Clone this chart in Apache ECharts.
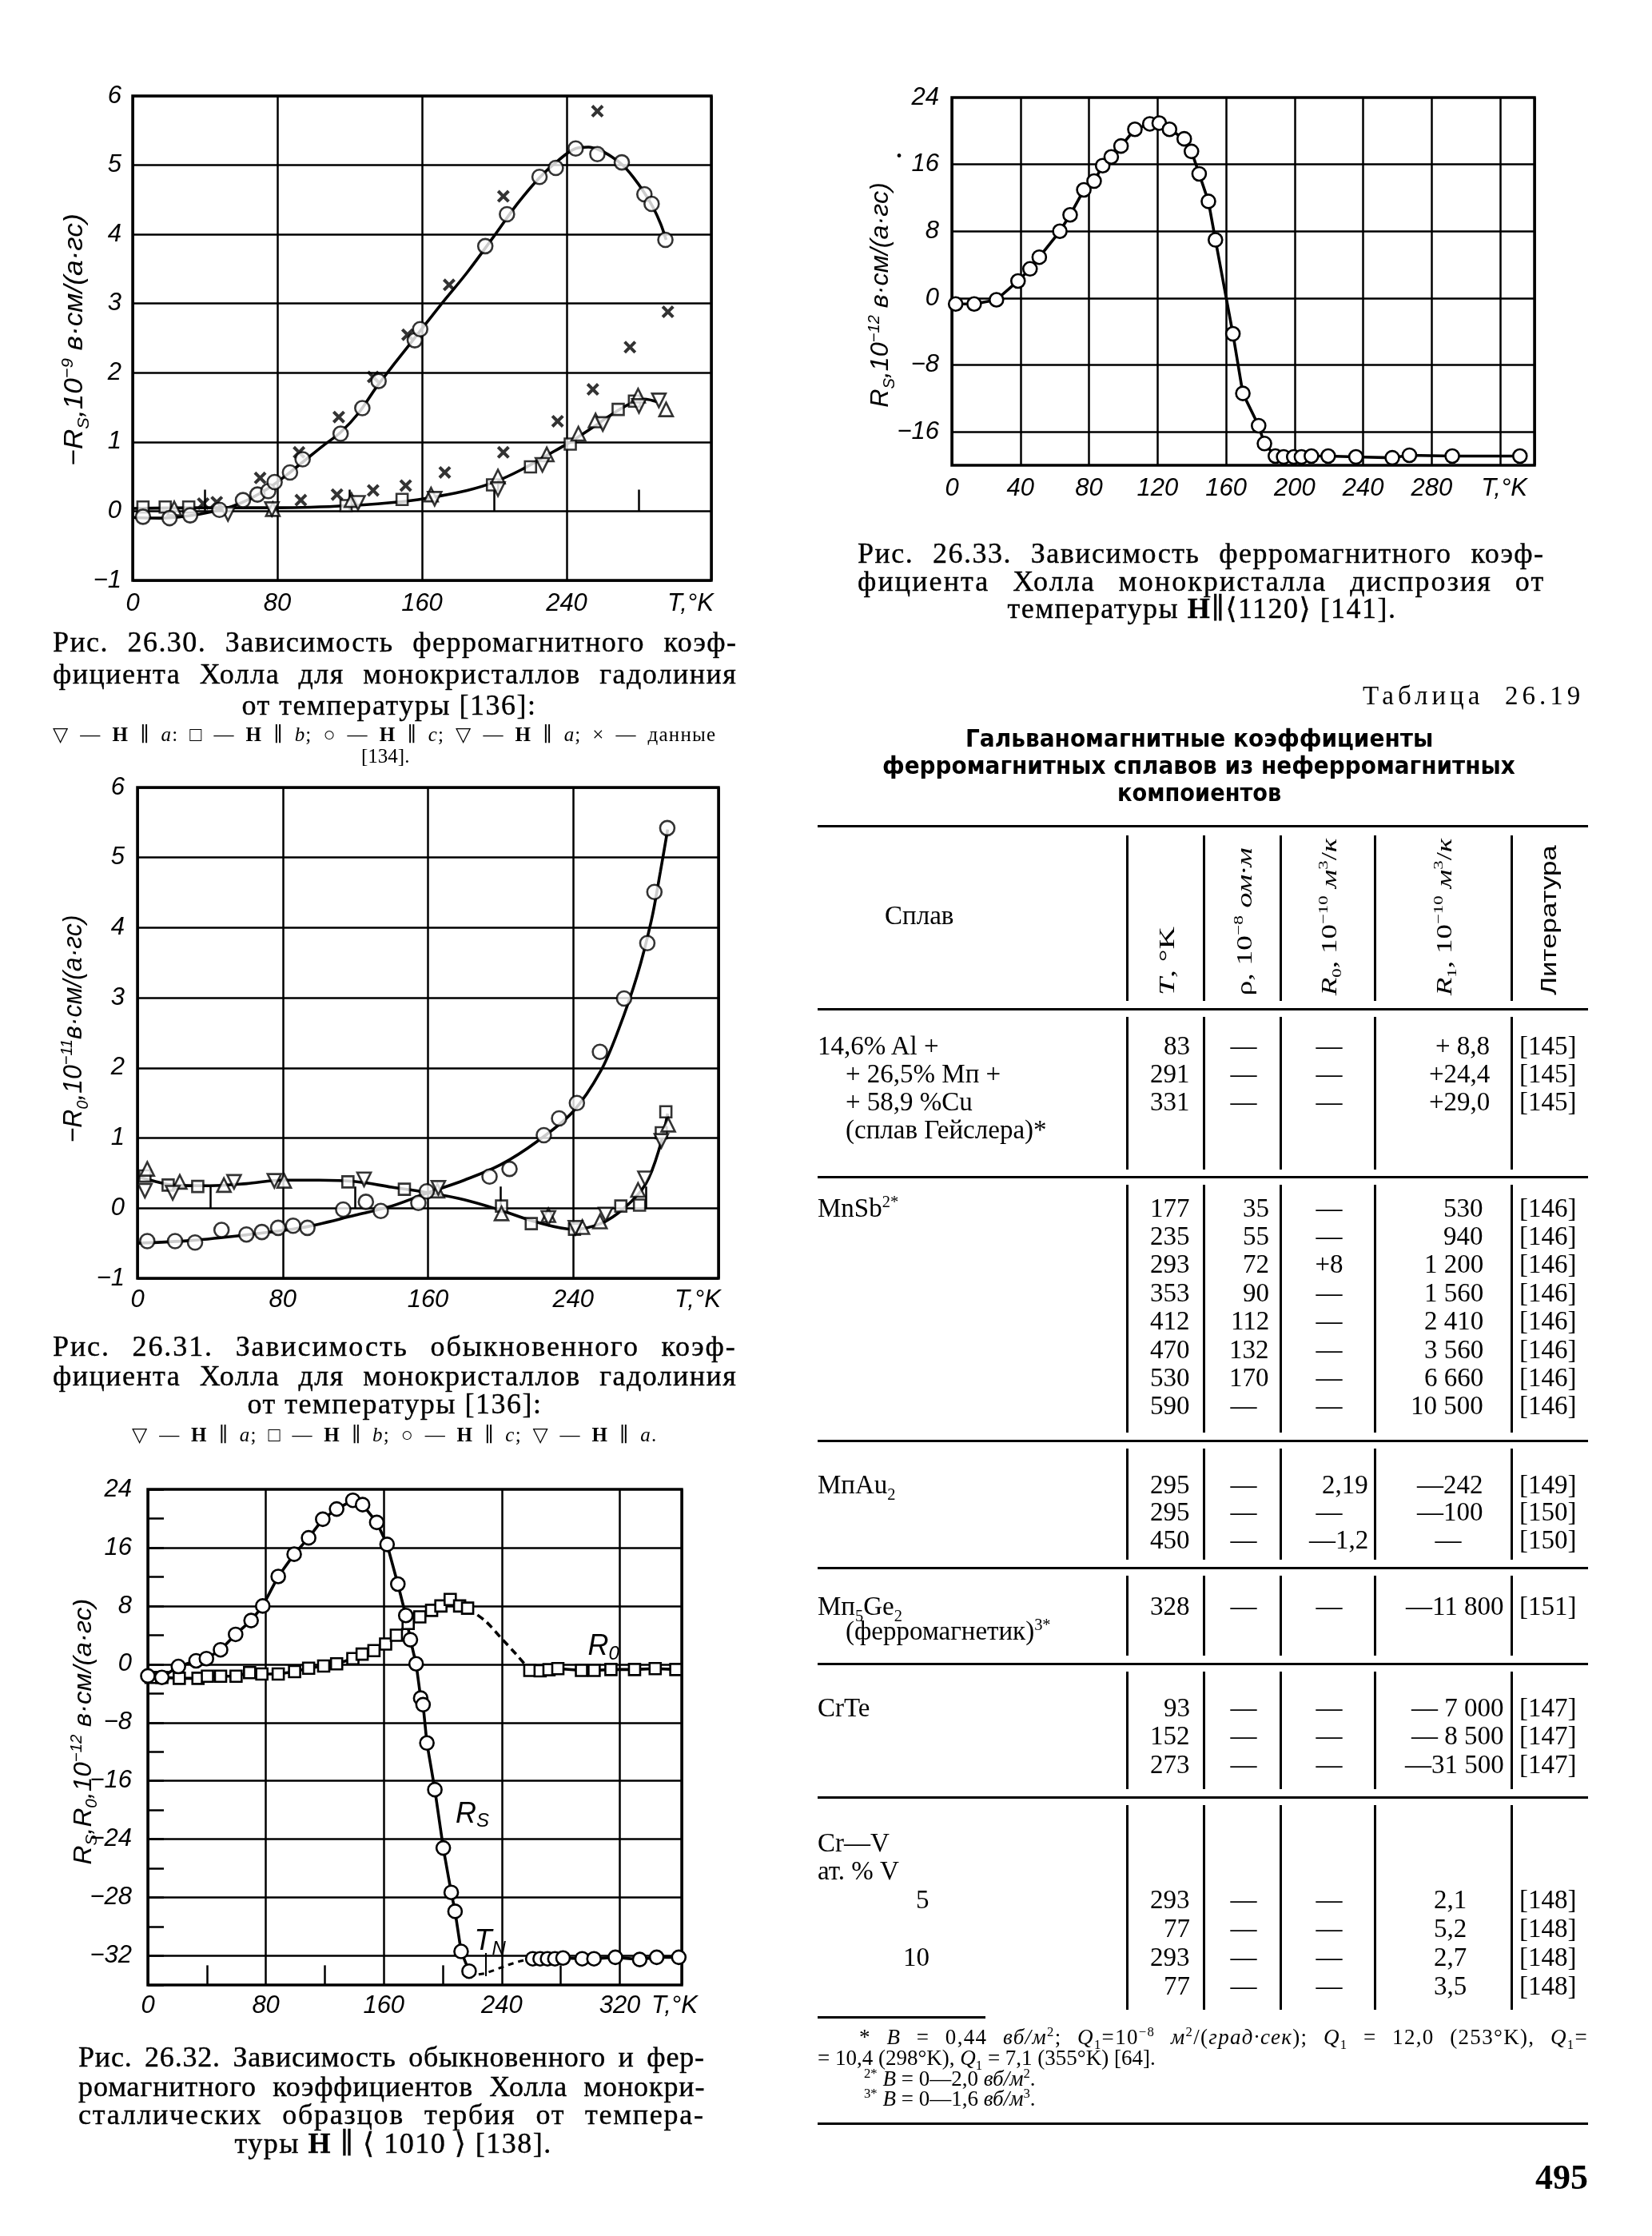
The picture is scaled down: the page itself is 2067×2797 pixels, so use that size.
<!DOCTYPE html>
<html lang="ru"><head><meta charset="utf-8"><title>Рис. 26.30–26.33, Таблица 26.19</title>
<script src="https://cdn.jsdelivr.net/npm/echarts@6.0.0/dist/echarts.min.js"></script>
<style>
html,body{margin:0;padding:0;background:#fff;}
#page{position:relative;width:2067px;height:2797px;overflow:hidden;background:#fff;color:#000;}
#chart{position:absolute;left:0;top:0;width:2067px;height:2797px;}
#ov{position:absolute;left:0;top:0;width:2067px;height:2797px;pointer-events:none;}
.t{position:absolute;white-space:nowrap;line-height:1;}
.serif{font-family:"Liberation Serif","DejaVu Serif",serif;}
.cap{-webkit-text-stroke:0.4px #000;}
.ax{font-family:"Liberation Sans Narrow","Liberation Sans","DejaVu Sans",sans-serif;font-style:italic;}
.bsans{font-family:"DejaVu Sans Condensed","Liberation Sans Narrow","DejaVu Sans",sans-serif;font-weight:bold;}
.sans{font-family:"Liberation Sans","DejaVu Sans",sans-serif;}
.rule{position:absolute;background:#000;}
sub,sup{font-size:0.62em;line-height:0;}
</style></head>
<body><div id="page"><div id="chart"></div><div id="ov"></div></div>
<script>
// ================= DATA =================
// --- Fig. 26.30: -Rs (10^-9) vs T, Gd ---
const f30_circleC = [[5.7,-0.08],[20.4,-0.1],[31.8,-0.06],[48,0.02],[61,0.16],[69,0.24],[75,0.29],[78.5,0.42],[87,0.56],[94,0.75],[115,1.12],[127,1.49],[136,1.88],[156,2.47],[159,2.63],[195,3.83],[207,4.29],[225,4.83],[234,4.96],[245,5.24],[257,5.16],[270.5,5.04],[283,4.58],[287,4.44],[294.6,3.92]];
const f30_cross = [[257,5.78],[205,4.55],[175,3.27],[152,2.55],[133,1.94],[114,1.36],[92,0.85],[70.5,0.48],[46.5,0.13],[39,0.11],[296,2.88],[275,2.37],[254.5,1.76],[235,1.30],[205,0.85],[172.6,0.56],[151,0.37],[133,0.30],[113,0.24],[93,0.16]];
const f30_squareB = [[5.7,0.06],[18,0.06],[31,0.06],[118,0.08],[149,0.17],[199,0.38],[220,0.64],[242,0.97],[268.5,1.47],[277.5,1.59]];
const f30_triUpA = [[23,0.04],[77.5,0.03],[121,0.16],[165,0.24],[202,0.5],[229,0.82],[246.5,1.12],[256,1.31],[279.5,1.67],[295,1.47]];
const f30_triDownA = [[52.7,-0.04],[77,0.03],[124.6,0.12],[167,0.18],[202,0.32],[226.6,0.67],[260,1.26],[280,1.52],[291,1.6]];
const f30_curveC = [[0,-0.09],[15,-0.1],[30,-0.07],[45,0.0],[55,0.07],[65,0.18],[75,0.33],[85,0.52],[95,0.73],[105,0.94],[115,1.14],[125,1.42],[135,1.8],[145,2.14],[158,2.57],[170,2.97],[185,3.45],[200,3.98],[213,4.45],[225,4.82],[235,5.06],[245,5.24],[252,5.26],[258,5.22],[265,5.12],[271,5.0],[277,4.82],[283,4.6],[288,4.38],[292,4.15],[295,3.92]];
const f30_curveAB = [[0,0.04],[40,0.05],[80,0.05],[120,0.08],[150,0.14],[170,0.22],[185,0.3],[200,0.42],[215,0.6],[230,0.82],[242,1.0],[255,1.22],[265,1.4],[275,1.55],[283,1.62],[290,1.58]];

// --- Fig. 26.33: Rs (10^-12) vs T, Dy ---
const f33_points = [[2.2,-0.7],[13,-0.7],[26,-0.2],[38.6,2.05],[45.6,3.5],[51,4.9],[63,8.0],[69,9.96],[77,12.95],[83,14.0],[88,15.85],[93,16.9],[98.7,18.2],[106.8,20.2],[115.5,20.85],[121,20.94],[127,20.2],[135.6,19.06],[139.8,17.56],[144.3,14.87],[149.7,11.58],[153.8,6.97],[164,-4.27],[169.8,-11.4],[179,-15.26],[182.4,-17.4],[188.8,-18.9],[193.6,-19.0],[199.5,-19.0],[204,-19.0],[209.8,-18.9],[219.6,-18.9],[235.8,-19.0],[257,-19.1],[267,-18.8],[292,-18.9],[331.5,-18.9]];
const f33_yGrid = [16, 8, 0, -8, -16];

// --- Fig. 26.31: -R0 (10^-11) vs T, Gd ---
const f31_circleC = [[5.4,-0.47],[20.7,-0.47],[31.7,-0.49],[46.3,-0.31],[60,-0.375],[68.5,-0.34],[77.5,-0.28],[85.7,-0.25],[93.6,-0.28],[113.3,-0.02],[125.8,0.09],[134,-0.04],[154.7,0.075],[159.3,0.24],[193.9,0.45],[204.9,0.56],[223.8,1.04],[232.2,1.28],[242,1.5],[254.7,2.23],[268,2.99],[280.8,3.78],[284.7,4.51],[291.8,5.42]];
const f31_squareB = [[4.1,0.46],[16.9,0.33],[33.2,0.31],[115.9,0.375],[147,0.27],[200.5,0.03],[216.9,-0.22],[240.7,-0.3],[266.2,0.03],[276.5,0.044],[288.5,1.075],[291,1.375]];
const f31_triUpA = [[5.4,0.56],[23.3,0.375],[47.6,0.33],[80.8,0.39],[165.2,0.25],[200.5,-0.075],[226.3,-0.1],[245,-0.27],[254.7,-0.19],[275.7,0.26],[292.3,1.19]];
const f31_triDownA = [[4.1,0.25],[19.4,0.22],[53.2,0.375],[75.4,0.39],[124.8,0.41],[165.7,0.29],[226.3,-0.14],[241.2,-0.28],[257.8,-0.09],[279.5,0.425],[288.5,0.96]];
const f31_curveC = [[0,-0.5],[30,-0.46],[60,-0.38],[90,-0.28],[120,-0.1],[140,0.03],[160,0.22],[180,0.4],[200,0.62],[220,0.95],[240,1.38],[255,1.95],[265,2.55],[275,3.3],[283,4.1],[288,4.8],[292,5.4]];
const f31_curveAB = [[0,0.45],[10,0.38],[20,0.33],[40,0.32],[60,0.35],[80,0.4],[100,0.4],[120,0.38],[140,0.3],[160,0.22],[180,0.12],[200,-0.03],[220,-0.2],[240,-0.3],[255,-0.22],[268,0.0],[280,0.35],[288,0.9],[292,1.35]];

// --- Fig. 26.32: Rs, R0 (10^-12) vs T, Tb ---
const f32_rsLow = [[0,-1.6],[9.5,-1.8],[20.7,-0.3],[32.7,0.48],[39.7,0.78],[49.3,1.99],[59.5,4.1],[70,6.0],[77.9,8.0],[88.4,12.05],[99.2,15.1],[109,17.35],[118.6,19.9],[128,21.3],[139,22.5],[145.6,21.9],[155.2,19.46],[162.2,16.45],[169.5,11.0],[174.9,6.7],[178,3.37],[181.9,0.06],[185,-4.64],[186.6,-5.54],[189.2,-10.8],[194.6,-17.2],[200.3,-25.2],[205.7,-31.3],[208.3,-33.9],[212.4,-39.4],[217.8,-42.1]];
const f32_rsGap = [[217.8,-42.1],[223,-42.6],[229,-42.4],[237,-41.8],[245,-41.2],[253,-40.7],[261,-40.4]];
const f32_rsHigh = [[261,-40.4],[266,-40.4],[271,-40.4],[276,-40.4],[281.5,-40.3],[294.5,-40.4],[302.5,-40.4],[317,-40.2],[333.5,-40.5],[345,-40.2],[360,-40.2]];
const f32_roLow = [[2.2,-1.8],[9.5,-1.8],[21.3,-1.93],[34,-1.93],[40.4,-1.63],[49.3,-1.63],[59.8,-1.63],[69,-1.14],[77.3,-1.33],[88.4,-1.33],[99.5,-1.0],[109,-0.54],[119.2,-0.24],[128,0.06],[139,0.78],[145.3,1.39],[153.3,1.87],[161.2,2.77],[168.5,3.98],[176.5,5.6],[184.4,6.5],[192.4,7.4],[198.7,8.0],[205,8.9],[211.4,8.0],[216.8,7.7]];
const f32_roGap = [[216.8,7.7],[229,5.9],[240,3.5],[249.6,1.4],[256,-0.1],[259,-0.84]];
const f32_roHigh = [[259,-0.84],[266,-0.9],[272,-0.75],[278,-0.6],[294,-0.84],[302.6,-0.84],[314,-0.72],[330,-0.72],[344,-0.6],[358,-0.72]];
const f32_yGrid = [16, 8, 0, -8, -16, -24, -32, -40];
const f32_yTickLabels = {'24':'24','16':'16','8':'8','0':'0','-8':'−8','-16':'−16','-24':'−24','-32':'−28','-40':'−32'};
const f32_xMinor = [40, 120, 200, 280];
const f32_notes = [{coord:[309,2.4], text:'{i|R}{s|0}'},{coord:[220,-20.6], text:'{i|R}{s|S}'},{coord:[232,-38.1], text:'{i|T}{s|N}'}];

// --- Table 26.19 ---
const tblHeaders = ['<i>T</i>, °K','ρ, 10<sup>−8</sup> <i>ом·м</i>','<i>R</i><sub>0</sub>, 10<sup>−10</sup> <i>м</i><sup>3</sup>/<i>к</i>','<i>R</i><sub>1</sub>, 10<sup>−10</sup> <i>м</i><sup>3</sup>/<i>к</i>','Литература'];
const tblGroups = [
  {y0:1308, pitch:35, r1:1864, names:[['14,6% Al +',0,0],['+ 26,5% Мп +',1,1],['+ 58,9 %Cu',2,1],['(сплав Гейслера)*',3,1]],
   rows:[[0,'83','—','—','+ 8,8','[145]'],[1,'291','—','—','+24,4','[145]'],[2,'331','—','—','+29,0','[145]']]},
  {y0:1511, pitch:35.4, r1:1856, names:[['MnSb<sup>2*</sup>',0,0]],
   rows:[[0,'177','35','—','530','[146]'],[1,'235','55','—','940','[146]'],[2,'293','72','+8','1 200','[146]'],[3,'353','90','—','1 560','[146]'],[4,'412','112','—','2 410','[146]'],[5,'470','132','—','3 560','[146]'],[6,'530','170','—','6 660','[146]'],[7,'590','—','—','10 500','[146]']]},
  {y0:1857, pitch:34.5, r1:1856, names:[['МпAu<sub>2</sub>',0,0]],
   rows:[[0,'295','—','2,19','—242','[149]'],[1,'295','—','—','—100','[150]'],[2,'450','—','—1,2','—','[150]']]},
  {y0:2009, pitch:31, r1:1882, names:[['Мп<sub>5</sub>Ge<sub>2</sub>',0,0],['(ферромагнетик)<sup>3*</sup>',1,1]],
   rows:[[0,'328','—','—','—11 800','[151]']]},
  {y0:2136, pitch:35.5, r1:1882, names:[['CrTe',0,0]],
   rows:[[0,'93','—','—','— 7 000','[147]'],[1,'152','—','—','— 8 500','[147]'],[2,'273','—','—','—31 500','[147]']]},
  {y0:2305, pitch:35.8, r1:1835, names:[['Cr—V',0,0],['ат. % V',1,0],['5',2,2],['10',4,2]],
   rows:[[2,'293','—','—','2,1','[148]'],[3,'77','—','—','5,2','[148]'],[4,'293','—','—','2,7','[148]'],[5,'77','—','—','3,5','[148]']]}
];

// ================= CHARTS =================
const FONT_AX = '"Liberation Sans Narrow","Liberation Sans","DejaVu Sans",sans-serif';
const BLACK = '#000';
const minus = v => (v < 0 ? '−' + Math.abs(v) : String(v));
const lbl = extra => Object.assign({color:BLACK, fontFamily:FONT_AX, fontStyle:'italic', fontSize:31, showMinLabel:true, showMaxLabel:true}, extra);
const richT = pad => ({t:{color:BLACK, fontFamily:FONT_AX, fontStyle:'italic', fontSize:31, padding:pad}});
const gridLine = {show:true, lineStyle:{color:BLACK, width:2.5}};
const gridBox = (l,t,w,h) => ({left:l, top:t, width:w, height:h, show:true, borderColor:BLACK, borderWidth:3.5, backgroundColor:'rgba(0,0,0,0)', containLabel:false});

const openSym = (sym, size, rot) => ({symbol:sym, symbolSize:size, symbolRotate:rot||0, itemStyle:{color:'#fff', borderColor:BLACK, borderWidth:2.6}});
const CROSS = 'path://M0,2.5 L2.5,0 L7,4.5 L11.5,0 L14,2.5 L9.5,7 L14,11.5 L11.5,14 L7,9.5 L2.5,14 L0,11.5 L4.5,7 Z';

function curve(ax, data, smooth, extra){
  return Object.assign({type:'line', xAxisIndex:ax, yAxisIndex:ax, data, smooth:smooth, symbol:'none', lineStyle:{color:BLACK, width:3.6}, z:3, silent:true}, extra||{});
}
function scat(ax, data, sym){
  return Object.assign({type:'scatter', xAxisIndex:ax, yAxisIndex:ax, data, z:6, silent:true}, sym);
}
function linePts(ax, data, sym, extra){
  return Object.assign({type:'line', xAxisIndex:ax, yAxisIndex:ax, data, showAllSymbol:true, lineStyle:{color:BLACK, width:3.6}, z:5, silent:true}, sym, extra||{});
}

const option = {
  animation:false,
  backgroundColor:'#fff',
  grid:[gridBox(166,120,724,606), gridBox(1191,122,729,460), gridBox(172,985,727,614), gridBox(185,1863,668,620)],
  xAxis:[
    {gridIndex:0, type:'value', min:0, max:320, interval:80, axisLine:{show:false}, axisTick:{show:false, inside:true},
     minorTick:{show:true, splitNumber:2, length:27, lineStyle:{color:BLACK, width:2.5}}, splitLine:gridLine,
     axisLabel:lbl({margin:14, formatter:v => v===320 ? '{t|T,°K}' : String(v), rich:richT([0,52,0,0])})},
    {gridIndex:1, type:'value', min:0, max:340, interval:40, axisLine:{show:false}, axisTick:{show:false}, splitLine:gridLine,
     axisLabel:lbl({margin:14, formatter:v => v===320 ? '{t|T,°K}' : (v===340 ? '' : String(v)), rich:richT([0,0,0,10])})},
    {gridIndex:2, type:'value', min:0, max:320, interval:80, axisLine:{show:false}, axisTick:{show:false, inside:true},
     minorTick:{show:true, splitNumber:2, length:27, lineStyle:{color:BLACK, width:2.5}}, splitLine:gridLine,
     axisLabel:lbl({margin:12, formatter:v => v===320 ? '{t|T,°K}' : String(v), rich:richT([0,52,0,0])})},
    {gridIndex:3, type:'value', min:0, max:362, interval:80, axisLine:{show:false}, axisTick:{show:false}, splitLine:gridLine,
     axisLabel:lbl({margin:11, formatter:v => v===362 ? '{t|T,°K}' : String(v), rich:richT([0,18,0,0])})}
  ],
  yAxis:[
    {gridIndex:0, type:'value', min:-1, max:6, interval:1, axisLine:{show:false}, axisTick:{show:false}, splitLine:gridLine,
     axisLabel:lbl({margin:14, formatter:v => minus(v)})},
    {gridIndex:1, type:'value', min:-20, max:24, interval:4, axisLine:{show:false}, axisTick:{show:false}, splitLine:{show:false},
     axisLabel:lbl({margin:16, formatter:v => (v % 8 === 0 && v > -20) ? minus(v) : ''})},
    {gridIndex:2, type:'value', min:-1, max:6, interval:1, axisLine:{show:false}, axisTick:{show:false}, splitLine:gridLine,
     axisLabel:lbl({margin:16, formatter:v => minus(v)})},
    {gridIndex:3, type:'value', min:-44, max:24, interval:4, axisLine:{show:false},
     axisTick:{show:true, inside:true, length:20, lineStyle:{color:BLACK, width:2.5}}, splitLine:{show:false},
     axisLabel:lbl({margin:20, formatter:v => f32_yTickLabels[String(v)] || ''})}
  ],
  series:[
    // 26.30
    curve(0, f30_curveC, 0.35),
    curve(0, f30_curveAB, 0.35),
    scat(0, f30_cross, {symbol:CROSS, symbolSize:16, itemStyle:{color:BLACK}}),
    scat(0, f30_squareB, openSym('rect', 14)),
    scat(0, f30_triUpA, openSym('triangle', 17)),
    scat(0, f30_triDownA, openSym('triangle', 17, 180)),
    scat(0, f30_circleC, openSym('circle', 18)),
    // 26.33
    {type:'line', xAxisIndex:1, yAxisIndex:1, data:[], silent:true, z:1,
     markLine:{silent:true, symbol:['none','none'], label:{show:false}, lineStyle:{color:BLACK, width:2.5, type:'solid'},
               data:f33_yGrid.map(v => ({yAxis:v}))}},
    linePts(1, f33_points, openSym('circle', 17)),
    // 26.31
    curve(2, f31_curveC, 0.35),
    curve(2, f31_curveAB, 0.35),
    scat(2, f31_squareB, openSym('rect', 14)),
    scat(2, f31_triUpA, openSym('triangle', 17)),
    scat(2, f31_triDownA, openSym('triangle', 17, 180)),
    scat(2, f31_circleC, openSym('circle', 18)),
    // 26.32
    {type:'line', xAxisIndex:3, yAxisIndex:3, data:[], silent:true, z:1,
     markLine:{silent:true, symbol:['none','none'], label:{show:false}, lineStyle:{color:BLACK, width:2.5, type:'solid'},
               data:f32_yGrid.map(v => ({yAxis:v})).concat(f32_xMinor.map(v => [{coord:[v,-44]},{coord:[v,-41.3]}]))}},
    curve(3, f32_rsGap, false, {lineStyle:{color:BLACK, width:3, type:[7,6]}}),
    curve(3, f32_roGap, 0.3, {lineStyle:{color:BLACK, width:3.6, type:[9,6]}}),
    linePts(3, f32_roLow, openSym('rect', 14)),
    linePts(3, f32_roHigh, openSym('rect', 14)),
    linePts(3, f32_rsLow, openSym('circle', 17)),
    linePts(3, f32_rsHigh, openSym('circle', 17), {
      markPoint:{symbol:'rect', symbolSize:1, itemStyle:{color:'rgba(0,0,0,0)'}, silent:true,
        label:{show:true, position:'inside', color:BLACK,
          rich:{i:{color:BLACK, fontFamily:FONT_AX, fontStyle:'italic', fontSize:36}, s:{color:BLACK, fontFamily:FONT_AX, fontStyle:'italic', fontSize:24, padding:[18,0,0,0]}}},
        data:f32_notes.map(n => ({coord:n.coord, label:{formatter:n.text}}))},
      markLine:{silent:true, symbol:['none','arrow'], symbolSize:[1,12], label:{show:false}, lineStyle:{color:BLACK, width:2, type:'solid'},
        data:[[{coord:[229,-39.6]},{coord:[229,-42.8]}]]}
    })
  ]
};
const chart = echarts.init(document.getElementById('chart'), null, {renderer:'canvas'});
chart.setOption(option);

// ================= TEXT OVERLAY =================
const ov = document.getElementById('ov');
function T(html, o){
  const el = document.createElement('div');
  el.className = 't ' + (o.cls || 'serif');
  el.innerHTML = html;
  el.style.fontSize = o.size + 'px';
  if (o.bold) el.style.fontWeight = 'bold';
  if (o.italic) el.style.fontStyle = 'italic';
  if (o.ls != null) el.style.letterSpacing = o.ls + 'px';
  ov.appendChild(el);
  let w = el.offsetWidth; const h = el.offsetHeight;
  if (o.width){
    const txt = el.textContent;
    const nSp = (txt.match(/[ \u00a0]/g) || []).length;
    const nCh = txt.length;
    if (w < o.width && !o.scale){
      const extra = o.width - w;
      const share = nSp > 0 ? (o.lsShare != null ? o.lsShare : 0.55) : 1;
      const ls = extra * share / nCh;
      el.style.letterSpacing = ls + 'px';
      if (nSp > 0){
        const w2 = el.offsetWidth;
        el.style.wordSpacing = ((o.width - w2) / nSp) + 'px';
      }
    } else { el.style.transformOrigin = 'left center'; el.style.transform = 'scaleX(' + (o.width / w) + ')'; }
    w = o.width;
  }
  const a = o.align || 'left';
  const left = a === 'right' ? o.x - w : (a === 'center' ? o.x - w / 2 : o.x);
  el.style.left = left + 'px';
  el.style.top = (o.y - h / 2) + 'px';
  return el;
}
function R(html, o){
  const el = document.createElement('div');
  el.className = 't ' + (o.cls || 'ax');
  el.innerHTML = html;
  el.style.fontSize = o.size + 'px';
  ov.appendChild(el);
  const w = el.offsetWidth, h = el.offsetHeight;
  el.style.left = (o.cx - w / 2) + 'px';
  el.style.top = (o.cy - h / 2) + 'px';
  el.style.transformOrigin = 'center center';
  const k = o.len ? o.len / w : 1;
  el.style.transform = 'rotate(-90deg) scaleX(' + k + ')';
}
function HR(x1, x2, y, th){ const d = document.createElement('div'); d.className='rule'; d.style.left=x1+'px'; d.style.width=(x2-x1)+'px'; d.style.top=(y-th/2)+'px'; d.style.height=th+'px'; ov.appendChild(d); }
function VR(x, y1, y2, th){ const d = document.createElement('div'); d.className='rule'; d.style.left=(x-th/2)+'px'; d.style.width=th+'px'; d.style.top=y1+'px'; d.style.height=(y2-y1)+'px'; ov.appendChild(d); }

// axis titles
R('−<i>R</i><sub>S</sub>,10<sup>−9</sup> <i>в·см/(а·гс)</i>', {cx:91, cy:425, len:315, size:34});
R('<i>R</i><sub>S</sub>,10<sup>−12</sup> <i>в·см/(а·гс)</i>', {cx:1100, cy:369, len:282, size:32});
R('−<i>R</i><sub>0</sub>,10<sup>−11</sup><i>в·см/(а·гс)</i>', {cx:90, cy:1287, len:285, size:34});
R('<i>R</i><sub>S</sub>,<i>R</i><sub>0</sub>,10<sup>−12</sup> <i>в·см/(а·гс)</i>', {cx:103, cy:2166, len:333, size:32});
T('•', {x:1125, y:195, size:20, align:'center'});

// captions
const CAP = 36;
T('Рис. 26.30. Зависимость ферромагнитного коэф-', {x:66, y:803, size:CAP, width:856, cls:'serif cap'});
T('фициента Холла для монокристаллов гадолиния', {x:66, y:843, size:CAP, width:856, cls:'serif cap'});
T('от температуры [136]:', {x:487, y:882, size:CAP, align:'center', ls:1.5, cls:'serif cap'});
T('▽ — <b>Н</b> ∥ <i>a</i>:  □ — <b>Н</b> ∥ <i>b</i>;  ○ — <b>Н</b> ∥ <i>c</i>;  ▽ — <b>Н</b> ∥ <i>a</i>;  × — данные', {x:66, y:918, size:25, width:856, lsShare:0.3});
T('[134].', {x:482, y:945, size:25, align:'center'});

T('Рис. 26.33. Зависимость ферромагнитного коэф-', {x:1073, y:692, size:CAP, width:860, cls:'serif cap'});
T('фициента Холла монокристалла диспрозия от', {x:1073, y:727, size:CAP, width:860, cls:'serif cap'});
T('температуры <b>Н</b>∥⟨1120⟩ [141].', {x:1504, y:761, size:CAP, align:'center', ls:1.5, cls:'serif cap'});

T('Рис. 26.31. Зависимость обыкновенного коэф-', {x:66, y:1684, size:CAP, width:856, cls:'serif cap'});
T('фициента Холла для монокристаллов гадолиния', {x:66, y:1721, size:CAP, width:856, cls:'serif cap'});
T('от температуры [136]:', {x:494, y:1756, size:CAP, align:'center', ls:1.5, cls:'serif cap'});
T('▽ — <b>Н</b> ∥ <i>a</i>; □ — <b>Н</b> ∥ <i>b</i>; ○ — <b>Н</b> ∥ <i>c</i>; ▽ — <b>Н</b> ∥ <i>a</i>.', {x:165, y:1794, size:25, width:658, lsShare:0.3});

T('Рис. 26.32. Зависимость обыкновенного и фер-', {x:98, y:2573, size:CAP, width:784, cls:'serif cap'});
T('ромагнитного коэффициентов Холла монокри-', {x:98, y:2610, size:CAP, width:784, cls:'serif cap'});
T('сталлических образцов тербия от темпера-', {x:98, y:2645, size:CAP, width:784, cls:'serif cap'});
T('туры <b>Н</b> ∥ ⟨ 1010 ⟩ [138].', {x:492, y:2681, size:CAP, align:'center', ls:1.5, cls:'serif cap'});

// table
T('Таблица&nbsp; 26.19', {x:1982, y:870, size:33, align:'right', ls:5});
T('Гальваномагнитные коэффициенты', {x:1500, y:924, size:30, cls:'bsans', align:'center', width:585, scale:true});
T('ферромагнитных сплавов из неферромагнитных', {x:1500, y:958, size:30, cls:'bsans', align:'center', width:792, scale:true});
T('компоиентов', {x:1500, y:992, size:30, cls:'bsans', align:'center', width:205, scale:true});

const TL = 1023, TR = 1987;
const colX = [1410, 1506, 1602, 1720, 1891];
HR(TL, TR, 1033, 3); HR(TL, TR, 1262, 3); HR(TL, TR, 1472, 3); HR(TL, TR, 1802, 3);
HR(TL, TR, 1961, 3); HR(TL, TR, 2081, 3); HR(TL, TR, 2248, 3); HR(TL, 1233, 2523, 3); HR(TL, TR, 2656, 3);
const groupSpans = [[1045,1252],[1272,1463],[1482,1792],[1812,1951],[1971,2071],[2091,2238],[2258,2514]];
groupSpans.forEach(s => colX.forEach(x => VR(x, s[0], s[1], 3)));

T('Сплав', {x:1150, y:1145, size:33, align:'center'});
const hdrCX = [1459, 1556, 1662, 1806, 1938];
const hdrLen = [86, 185, 196, 196, 188];
const hdrCls = ['serif','serif','serif','serif','sans'];
tblHeaders.forEach((h, i) => R(h, {cx:hdrCX[i], cy:1245 - hdrLen[i] / 2, len:hdrLen[i], size:28, cls:hdrCls[i]}));

const TS = 33;
tblGroups.forEach(g => {
  g.names.forEach(n => {
    const y = g.y0 + n[1] * g.pitch;
    if (n[2] === 2) T(n[0], {x:1163, y, size:TS, align:'right'});
    else T(n[0], {x: n[2] ? 1058 : TL, y, size:TS});
  });
  g.rows.forEach(r => {
    const y = g.y0 + r[0] * g.pitch;
    T(r[1], {x:1489, y, size:TS, align:'right'});
    if (r[2] === '—') T(r[2], {x:1556, y, size:TS, align:'center'}); else T(r[2], {x:1588, y, size:TS, align:'right'});
    if (r[3] === '—' || r[3].length <= 2) T(r[3], {x:1663, y, size:TS, align:'center'}); else T(r[3], {x:1712, y, size:TS, align:'right'});
    if (r[4] === '—') T(r[4], {x:1812, y, size:TS, align:'center'}); else T(r[4], {x:g.r1, y, size:TS, align:'right'});
    T(r[5], {x:1901, y, size:TS});
  });
});

const FN = 27;
T('* <i>B</i> = 0,44 <i>вб/м</i><sup>2</sup>; <i>Q</i><sub>1</sub>=10<sup>−8</sup> <i>м</i><sup>2</sup>/(<i>град·сек</i>); <i>Q</i><sub>1</sub> = 12,0 (253°K), <i>Q</i><sub>1</sub>=', {x:1075, y:2548, size:FN, width:912, lsShare:0.4});
T('= 10,4 (298°K), <i>Q</i><sub>1</sub> = 7,1 (355°K) [64].', {x:TL, y:2574, size:FN});
T('<sup>2*</sup> <i>B</i> = 0—2,0 <i>вб/м</i><sup>2</sup>.', {x:1081, y:2600, size:FN});
T('<sup>3*</sup> <i>B</i> = 0—1,6 <i>вб/м</i><sup>3</sup>.', {x:1081, y:2625, size:FN});

T('495', {x:1987, y:2724, size:44, bold:true, align:'right'});
</script></body></html>
